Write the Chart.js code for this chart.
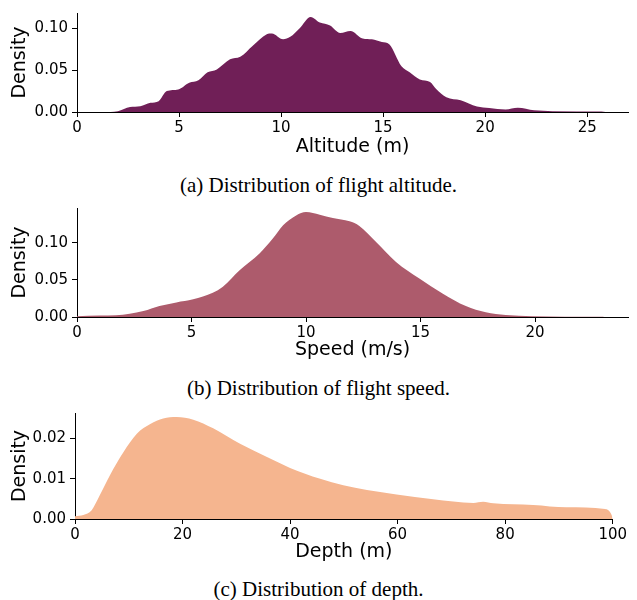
<!DOCTYPE html>
<html>
<head>
<meta charset="utf-8">
<script src="https://cdn.jsdelivr.net/npm/chart.js@4.4.1/dist/chart.umd.min.js"></script>
<style>
    body { margin: 0; background: #fff; }
    .wrap { position: absolute; left: 0; width: 637px; }
    .caption {
        position: absolute; left: 0; width: 637px; text-align: center;
        font-family: "Liberation Serif", "Times New Roman", serif; font-size: 21px; color: #000;
        line-height: 24px;
    }
</style>
</head>
<body>
<div class="wrap" style="top:0;height:165px"><canvas id="chart-altitude"></canvas></div>
<div class="caption" style="top:173px">(a) Distribution of flight altitude.</div>
<div class="wrap" style="top:195px;height:175px"><canvas id="chart-speed"></canvas></div>
<div class="caption" style="top:376px">(b) Distribution of flight speed.</div>
<div class="wrap" style="top:400px;height:170px"><canvas id="chart-depth"></canvas></div>
<div class="caption" style="top:577px">(c) Distribution of depth.</div>

<script>
// altitude (m) vs density
const altitudeX = [1.3, 2.0, 2.6, 3.1, 3.6, 4.0, 4.4, 4.96, 5.5, 5.95, 6.4, 6.85, 7.5, 8.0, 8.6, 9.3, 9.55, 10.1, 10.45, 10.9, 11.45, 11.9, 12.4, 12.9, 13.4, 14.0, 14.45, 14.94, 15.3, 15.9, 16.3, 16.8, 17.3, 17.6, 18.1, 18.8, 19.6, 20.2, 21.0, 21.6, 22.4, 23.3, 25.7, 25.9];
const altitudeDensity = [0, 0.001, 0.006, 0.007, 0.011, 0.013, 0.025, 0.027, 0.035, 0.038, 0.0475, 0.051, 0.063, 0.066, 0.079, 0.093, 0.094, 0.087, 0.090, 0.100, 0.1138, 0.107, 0.1036, 0.0946, 0.097, 0.088, 0.087, 0.0837, 0.081, 0.0547, 0.0475, 0.039, 0.036, 0.0275, 0.0177, 0.014, 0.0065, 0.0047, 0.003, 0.005, 0.002, 0.001, 0.0005, 0];
const altitudeXTicks = [0, 5, 10, 15, 20, 25];
const altitudeYTicks = [0, 0.05, 0.10];

// speed (m/s) vs density
const speedX = [0, 1.0, 1.7, 2.3, 2.9, 3.6, 4.34, 5.07, 5.93, 6.37, 7.1, 7.97, 8.55, 9.0, 9.57, 10.0, 10.6, 11.17, 11.9, 12.33, 13.06, 13.93, 14.95, 15.96, 16.98, 17.85, 18.72, 19.88, 21.3, 23.0];
const speedDensity = [0.001, 0.002, 0.0025, 0.0045, 0.008, 0.0148, 0.0197, 0.0238, 0.0327, 0.0408, 0.063, 0.0856, 0.1057, 0.1237, 0.137, 0.1415, 0.138, 0.1335, 0.129, 0.1227, 0.101, 0.0743, 0.052, 0.0318, 0.0148, 0.0063, 0.0027, 0.001, 0.0005, 0.0003];
const speedXTicks = [0, 5, 10, 15, 20];
const speedYTicks = [0, 0.05, 0.10];

// depth (m) vs density
const depthX = [0, 1.55, 3.1, 4.65, 6.5, 9.0, 11.5, 14.0, 16.4, 18.9, 22.0, 25.7, 30.7, 35.7, 40.0, 45.6, 49.9, 54.3, 59.8, 66.6, 74.1, 75.9, 77.8, 85.2, 91.4, 98.6, 99.8, 100];
const depthDensity = [0.0007, 0.001, 0.0022, 0.006, 0.0109, 0.0166, 0.0212, 0.0236, 0.025, 0.02535, 0.0247, 0.02255, 0.0187, 0.0154, 0.0127, 0.010, 0.0084, 0.0072, 0.0061, 0.0049, 0.004, 0.0043, 0.0039, 0.0035, 0.0029, 0.0025, 0.001, 0];
const depthXTicks = [0, 20, 40, 60, 80, 100];
const depthYTicks = [0, 0.01, 0.02];

Chart.defaults.font.family = '"DejaVu Sans", sans-serif';
Chart.defaults.color = '#000';

function makeChart(id, xs, ys, color, cfg) {
    const points = xs.map((x, i) => ({x: x, y: ys[i]}));
    return new Chart(document.getElementById(id), {
        type: 'line',
        data: {
            datasets: [{
                data: points,
                fill: 'origin',
                backgroundColor: color,
                borderWidth: 0,
                pointRadius: 0,
                cubicInterpolationMode: 'monotone'
            }]
        },
        options: {
            responsive: true,
            maintainAspectRatio: false,
            animation: false,
            layout: {padding: cfg.padding},
            plugins: {legend: {display: false}, tooltip: {enabled: false}},
            scales: {
                x: {
                    type: 'linear',
                    min: cfg.xMin,
                    max: cfg.xMax,
                    z: 1,
                    afterBuildTicks: s => { s.ticks = cfg.xTicks.map(v => ({value: v})); },
                    afterFit: s => { s.height = cfg.xHeight; },
                    border: {display: true, color: '#000', width: 1},
                    grid: {drawOnChartArea: false, drawTicks: true, tickLength: 5, tickColor: '#000'},
                    ticks: {font: {size: 15}, padding: 2, maxRotation: 0, callback: v => String(v)},
                    title: {display: true, text: cfg.xTitle, font: {size: 19}, padding: {top: 0, bottom: 0}}
                },
                y: {
                    min: 0,
                    max: cfg.yMax,
                    z: 1,
                    afterBuildTicks: s => { s.ticks = cfg.yTicks.map(v => ({value: v})); },
                    afterFit: s => { s.width = cfg.yWidth; },
                    border: {display: true, color: '#000', width: 1},
                    grid: {drawOnChartArea: false, drawTicks: true, tickLength: 5, tickColor: '#000'},
                    ticks: {font: {size: 15}, padding: 4, callback: v => v.toFixed(2)},
                    title: {display: true, text: 'Density', font: {size: 19}, padding: {top: 9, bottom: 0}}
                }
            }
        }
    });
}

makeChart('chart-altitude', altitudeX, altitudeDensity, '#701f57', {
    padding: {top: 3, right: 9, left: 0, bottom: 7},
    xMin: 0, xMax: 27.0, yMax: 0.1185,
    xTicks: altitudeXTicks, yTicks: altitudeYTicks,
    xHeight: 46, yWidth: 77, xTitle: 'Altitude (m)'
});

makeChart('chart-speed', speedX, speedDensity, '#ad5b6c', {
    padding: {top: 12.7, right: 9, left: 0, bottom: 8.6},
    xMin: 0, xMax: 24.06, yMax: 0.147,
    xTicks: speedXTicks, yTicks: speedYTicks,
    xHeight: 44.4, yWidth: 77, xTitle: 'Speed (m/s)'
});

makeChart('chart-depth', depthX, depthDensity, '#f5b58f', {
    padding: {top: 12.3, right: 24.3, left: 0, bottom: 6.9},
    xMin: 0, xMax: 100, yMax: 0.02635,
    xTicks: depthXTicks, yTicks: depthYTicks,
    xHeight: 44.1, yWidth: 75, xTitle: 'Depth (m)'
});
</script>
</body>
</html>
